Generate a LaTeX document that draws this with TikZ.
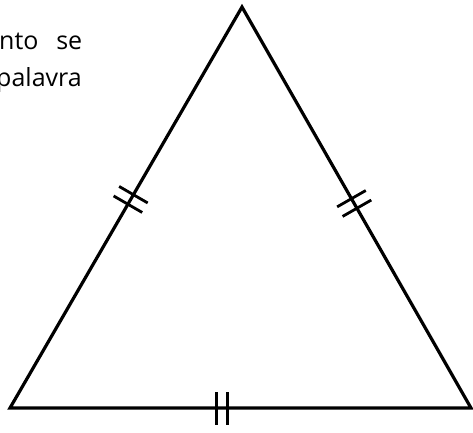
\documentclass[tikz,border=0pt]{standalone}
\usepackage{fontspec}
\setmainfont{Open Sans}
\usetikzlibrary{decorations.markings}
\tikzset{
  cote/.style={line width=3.2pt, line join=miter},
  doubletrait/.style={postaction={decorate},
    decoration={markings, mark=at position #1 with {
      \draw[line width=2.8pt] (-5.5pt,-16.5pt) -- (-5.5pt,16.5pt) (5.5pt,-16.5pt) -- (5.5pt,16.5pt);}}}
}
\begin{document}
\begin{tikzpicture}[x=1pt,y=-1pt]
	\useasboundingbox (0,0) rectangle (473,432);
	\clip (0,0) rectangle (473,432);
	% Texte %
	\node[anchor=base west,inner sep=0pt] (ligne1) at (-1,49) {\fontsize{25}{25}\selectfont\makebox[83pt]{nto\hfill se}};
	\node[anchor=base east,inner sep=0pt] (ligne2) at (82,86) {\fontsize{25}{25}\selectfont palavra};
	% Sommets %
	\coordinate (A) at (242,7);
	\coordinate (B) at (10,408);
	\coordinate (C) at (471,408);
	% Triangle %
	\draw[cote] (A) -- (B) -- (C) -- cycle;
	% Traits de codage %
	\path[doubletrait=0.48] (A) -- (B);
	\path[doubletrait=0.49] (A) -- (C);
	\path[doubletrait=0.46] (B) -- (C);
\end{tikzpicture}
\end{document}
